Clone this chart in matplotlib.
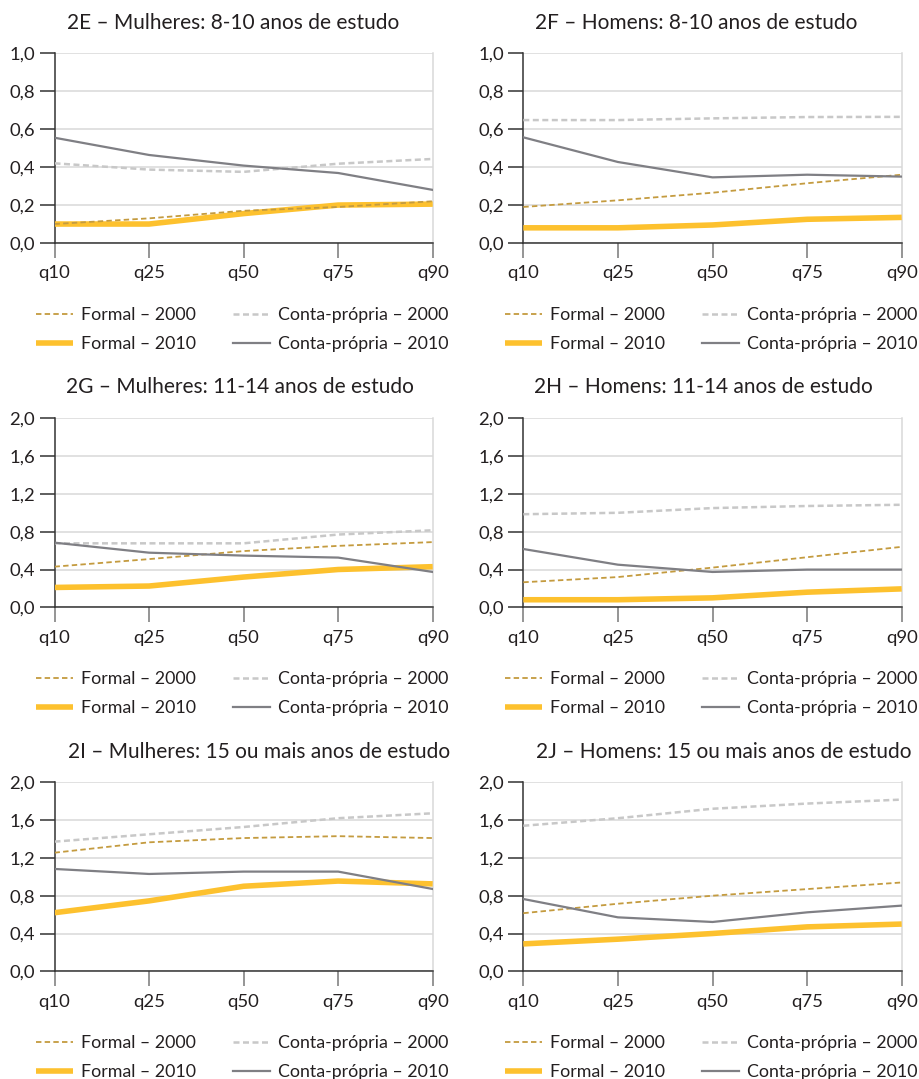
import matplotlib
matplotlib.use('Agg')
import matplotlib.pyplot as plt

plt.rcParams['font.family'] = ['Lato', 'DejaVu Sans']

quantis = ['q10', 'q25', 'q50', 'q75', 'q90']

titulos = ['2E – Mulheres: 8-10 anos de estudo',
           '2F – Homens: 8-10 anos de estudo',
           '2G – Mulheres: 11-14 anos de estudo',
           '2H – Homens: 11-14 anos de estudo',
           '2I – Mulheres: 15 ou mais anos de estudo',
           '2J – Homens: 15 ou mais anos de estudo']

# valores, um por painel
formal_2000 = [[0.10, 0.13, 0.17, 0.19, 0.22],
               [0.19, 0.225, 0.265, 0.315, 0.36],
               [0.43, 0.51, 0.595, 0.65, 0.69],
               [0.265, 0.32, 0.42, 0.53, 0.64],
               [1.255, 1.365, 1.41, 1.43, 1.41],
               [0.615, 0.715, 0.80, 0.87, 0.94]]
formal_2010 = [[0.10, 0.10, 0.155, 0.20, 0.205],
               [0.08, 0.08, 0.095, 0.125, 0.135],
               [0.21, 0.225, 0.32, 0.40, 0.43],
               [0.08, 0.08, 0.10, 0.16, 0.195],
               [0.62, 0.745, 0.90, 0.955, 0.925],
               [0.29, 0.34, 0.40, 0.47, 0.50]]
conta_2000 = [[0.42, 0.387, 0.375, 0.418, 0.443],
              [0.648, 0.648, 0.657, 0.664, 0.665],
              [0.677, 0.677, 0.677, 0.77, 0.815],
              [0.985, 1.0, 1.05, 1.072, 1.085],
              [1.372, 1.45, 1.527, 1.62, 1.672],
              [1.54, 1.62, 1.72, 1.775, 1.817]]
conta_2010 = [[0.555, 0.464, 0.408, 0.369, 0.28],
              [0.557, 0.427, 0.346, 0.36, 0.35],
              [0.684, 0.578, 0.547, 0.526, 0.374],
              [0.617, 0.451, 0.374, 0.399, 0.399],
              [1.083, 1.03, 1.055, 1.055, 0.871],
              [0.765, 0.571, 0.522, 0.624, 0.695]]
y_max = [1.0, 1.0, 2.0, 2.0, 2.0, 2.0]
y_step = [0.2, 0.2, 0.4, 0.4, 0.4, 0.4]

W, H = 919, 1079
fig = plt.figure(figsize=(W / 100, H / 100), dpi=100)

txt = '#231f20'
c_f00 = '#c49b3f'
c_f10 = '#fdc12e'
c_c00 = '#c8c8c8'
c_c10 = '#7f7f84'
grid_c = '#d9d9d9'

col_x = [(54.5, 432.7), (523.3, 901.7)]
row_y = [(53.3, 243), (418.3, 607.3), (782.3, 971.3)]
title_pos = [(233, 23), (696, 23), (240, 387), (703, 387), (259, 752), (724, 752)]
leg_x = [36, 505]
leg_y = [329.5, 693.5, 1057.5]

for i in range(6):
    r, c = divmod(i, 2)
    x0, x1 = col_x[c]
    yt, yb = row_y[r]
    ax = fig.add_axes([x0 / W, 1 - yb / H, (x1 - x0) / W, (yb - yt) / H])
    x = range(len(quantis))

    l2, = ax.plot(x, formal_2010[i], color=c_f10, lw=4.0, solid_capstyle='butt', zorder=3,
                  label='Formal – 2010')
    l1, = ax.plot(x, formal_2000[i], color=c_f00, lw=1.3, dashes=(3, 1.8), zorder=4,
                  label='Formal – 2000')
    l3, = ax.plot(x, conta_2000[i], color=c_c00, lw=1.8, dashes=(2.4, 1.4), zorder=4,
                  label='Conta-própria – 2000')
    l4, = ax.plot(x, conta_2010[i], color=c_c10, lw=1.6, zorder=5,
                  label='Conta-própria – 2010')

    ax.set_xlim(0, 4)
    ax.set_ylim(0, y_max[i])
    n = int(round(y_max[i] / y_step[i]))
    yt_vals = [k * y_step[i] for k in range(n + 1)]
    ax.set_yticks(yt_vals)
    ax.set_yticklabels([f'{v:.1f}'.replace('.', ',') for v in yt_vals])
    ax.set_xticks(list(x))
    ax.set_xticklabels(quantis)

    ax.grid(axis='y', color=grid_c, lw=1.1)
    ax.set_axisbelow(True)
    ax.spines['top'].set_visible(False)
    ax.spines['right'].set_color(grid_c)
    ax.spines['right'].set_linewidth(1.1)
    ax.spines['left'].set_color('#333333')
    ax.spines['left'].set_linewidth(1.1)
    ax.spines['bottom'].set_color('#333333')
    ax.spines['bottom'].set_linewidth(1.1)
    ax.tick_params(axis='y', length=11, width=1.1, color='#333333', pad=3,
                   labelsize=13.3, labelcolor=txt)
    ax.tick_params(axis='x', length=11, width=1.3, color='#8c8c8c', pad=5,
                   labelsize=13.3, labelcolor=txt)

    fig.text(title_pos[i][0] / W, 1 - title_pos[i][1] / H, titulos[i],
             ha='center', va='center', fontsize=15, color=txt)

    leg = ax.legend(handles=[l1, l2, l3, l4], ncol=2, loc='center left',
                    bbox_to_anchor=(leg_x[c] / W, 1 - leg_y[r] / H),
                    bbox_transform=fig.transFigure, frameon=False,
                    fontsize=12.8, handlelength=2.1, handletextpad=0.45,
                    columnspacing=2.05, labelspacing=0.72,
                    borderpad=0, borderaxespad=0)
    for t in leg.get_texts():
        t.set_color(txt)

fig.savefig('out.png', dpi=100)
